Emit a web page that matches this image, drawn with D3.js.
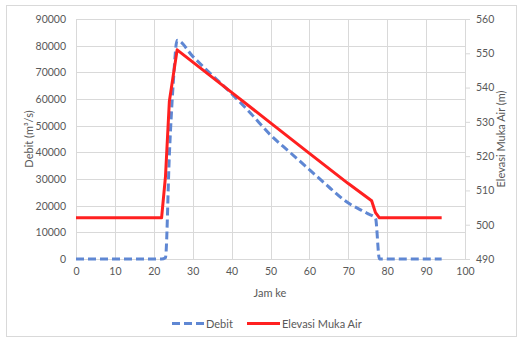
<!DOCTYPE html>
<html><head><meta charset="utf-8">
<script src="https://cdn.jsdelivr.net/npm/d3@7"></script>
<style>
body{margin:0;background:#fff;}
text{font-family:Lato,"Open Sans",sans-serif;}
</style></head>
<body><svg id="c" width="519" height="341"></svg>
<script>
// Data
const debitHours = [0,10,20,22,23,24,25,26,30,34,40,45,50,55,60,65,69,75,77,78,80,90,94];
const debitValues = [0,0,0,0,500,39000,66000,82000,76000,70300,62000,54500,46500,40000,33500,27000,22000,17000,15300,0,0,0,0];
const elevHours = [0,10,20,22,23,24,25,26,40,50,60,70,76,77,78,90,94];
const elevValues = [502,502,502,502,514,536,543.5,551,538.6,529.7,520.8,512,507,503.5,502,502,502];
const xTicks = [0,10,20,30,40,50,60,70,80,90,100];
const yLeftTicks = [0,10000,20000,30000,40000,50000,60000,70000,80000,90000];
const yRightTicks = [490,500,510,520,530,540,550,560];
const seriesNames = ["Debit","Elevasi Muka Air"];
const labels = {x:"Jam ke", yLeft:"Debit (m³/s)", yRight:"Elevasi Muka Air (m)"};

const svg = d3.select("#c");
const L=76, R=465, T=19, B=259;
const x = d3.scaleLinear().domain([0,100]).range([L,R]);
const yL = d3.scaleLinear().domain([0,90000]).range([B,T]);
const yR = d3.scaleLinear().domain([490,560]).range([B,T]);
const grid="#d9d9d9", tcol="#595959";

// outer frame
svg.append("rect").attr("x",6.5).attr("y",5.5).attr("width",510).attr("height",331)
  .attr("fill","#fff").attr("stroke","#d9d9d9");

// gridlines
svg.append("g").selectAll("line").data(yLeftTicks).join("line")
  .attr("x1",L).attr("x2",R).attr("y1",d=>Math.round(yL(d))+0.5).attr("y2",d=>Math.round(yL(d))+0.5)
  .attr("stroke",grid);
svg.append("g").selectAll("line").data(xTicks).join("line")
  .attr("y1",T).attr("y2",B).attr("x1",d=>Math.round(x(d))+0.5).attr("x2",d=>Math.round(x(d))+0.5)
  .attr("stroke",grid);

// axes
const ax = svg.append("g").attr("transform",`translate(0,${B})`)
  .call(d3.axisBottom(x).tickValues(xTicks).tickSize(0).tickPadding(9));
const ayl = svg.append("g").attr("transform",`translate(${L},0)`)
  .call(d3.axisLeft(yL).tickValues(yLeftTicks).tickSize(0).tickPadding(10).tickFormat(d3.format("d")));
const ayr = svg.append("g").attr("transform",`translate(${R},0)`)
  .call(d3.axisRight(yR).tickValues(yRightTicks).tickSize(5).tickPadding(6));
[ax,ayl,ayr].forEach(g=>{
  g.select(".domain").attr("stroke",grid);
  g.selectAll(".tick line").attr("stroke",grid);
  g.selectAll("text").attr("fill",tcol).style("font-size","10.5px").style("font-family","Lato, sans-serif");
});
ayl.select(".domain").remove();

// lines
const lineD = d3.line().x(d=>x(d[0])).y(d=>yL(d[1])).curve(d3.curveMonotoneX);
const lineE = d3.line().x(d=>x(d[0])).y(d=>yR(d[1])).curve(d3.curveLinear);
svg.append("path").datum(d3.zip(debitHours,debitValues)).attr("d",lineD)
  .attr("fill","none").attr("stroke","#5f87d3").attr("stroke-width",3).attr("stroke-dasharray","8,4");
svg.append("path").datum(d3.zip(elevHours,elevValues)).attr("d",lineE)
  .attr("fill","none").attr("stroke","#ff2020").attr("stroke-width",3).attr("stroke-linejoin","round");

// axis titles
svg.append("text").attr("x",270).attr("y",297).attr("text-anchor","middle")
  .attr("fill",tcol).style("font-size","11px").text(labels.x);
svg.append("text").attr("transform",`translate(33,139) rotate(-90)`).attr("text-anchor","middle")
  .attr("fill",tcol).style("font-size","11px").text(labels.yLeft);
svg.append("text").attr("transform",`translate(505,139) rotate(-90)`).attr("text-anchor","middle")
  .attr("fill",tcol).style("font-size","11px").text(labels.yRight);

// legend
const lg = svg.append("g");
lg.append("line").attr("x1",172).attr("x2",204).attr("y1",323.5).attr("y2",323.5)
  .attr("stroke","#5f87d3").attr("stroke-width",3).attr("stroke-dasharray","8,4");
lg.append("text").attr("x",206).attr("y",327.5).attr("fill",tcol).style("font-size","11px").text(seriesNames[0]);
lg.append("line").attr("x1",247).attr("x2",280).attr("y1",323.5).attr("y2",323.5)
  .attr("stroke","#ff2020").attr("stroke-width",3);
lg.append("text").attr("x",282).attr("y",327.5).attr("fill",tcol).style("font-size","11px").text(seriesNames[1]);
</script></body></html>
